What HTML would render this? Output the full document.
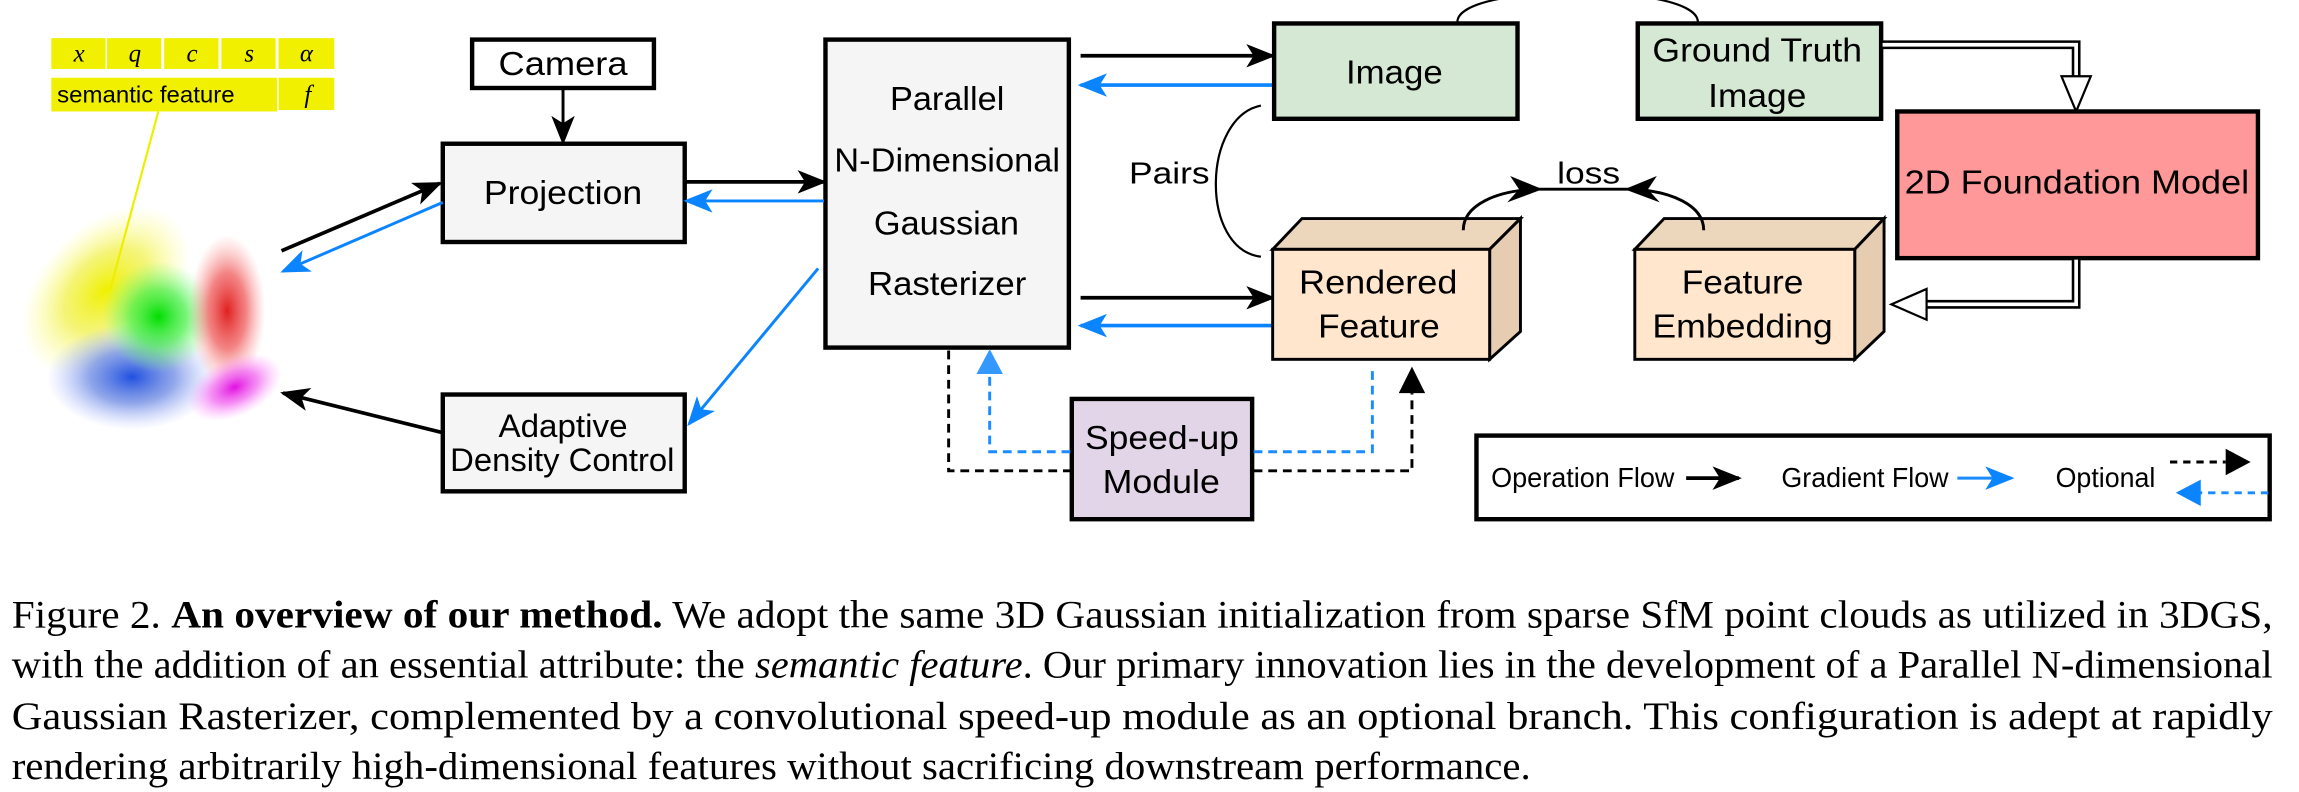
<!DOCTYPE html>
<html><head><meta charset="utf-8"><style>
html,body{margin:0;padding:0;background:#fff;}
svg{display:block;}
.t{font-family:"Liberation Sans",Arial,sans-serif;fill:#000;}
.c{font-family:"Liberation Serif","Times New Roman",serif;fill:#000;font-size:27px;}
</style></head><body>
<svg width="2299" height="792" viewBox="0 0 1568 540" preserveAspectRatio="none" xmlns="http://www.w3.org/2000/svg">
<defs>
<marker id="ab" viewBox="0 0 20 16" refX="18" refY="8" markerWidth="20" markerHeight="16" markerUnits="userSpaceOnUse" orient="auto">
<path d="M0,0 L20,8 L0,16 L5,8 Z" fill="#000"/></marker>
<marker id="au" viewBox="0 0 20 16" refX="18" refY="8" markerWidth="20" markerHeight="16" markerUnits="userSpaceOnUse" orient="auto">
<path d="M0,0 L20,8 L0,16 L5,8 Z" fill="#0a84ff"/></marker>
<radialGradient id="gy"><stop offset="0" stop-color="#f0f000"/><stop offset="0.5" stop-color="#f0f040" stop-opacity="0.7"/><stop offset="1" stop-color="#ffff80" stop-opacity="0"/></radialGradient>
<radialGradient id="gg"><stop offset="0" stop-color="#00dd00"/><stop offset="0.5" stop-color="#40ee40" stop-opacity="0.7"/><stop offset="1" stop-color="#80ff80" stop-opacity="0"/></radialGradient>
<radialGradient id="gr"><stop offset="0" stop-color="#e02020"/><stop offset="0.5" stop-color="#ee5050" stop-opacity="0.7"/><stop offset="1" stop-color="#ff9090" stop-opacity="0"/></radialGradient>
<radialGradient id="gb"><stop offset="0" stop-color="#2050e0"/><stop offset="0.5" stop-color="#6080e0" stop-opacity="0.7"/><stop offset="1" stop-color="#a0b0ff" stop-opacity="0"/></radialGradient>
<radialGradient id="gm"><stop offset="0" stop-color="#e010e0"/><stop offset="0.5" stop-color="#f060f0" stop-opacity="0.7"/><stop offset="1" stop-color="#ffa0ff" stop-opacity="0"/></radialGradient>
</defs>

<!-- blobs -->
<ellipse cx="72" cy="198" rx="68" ry="44" fill="url(#gy)" transform="rotate(-45 72 198)"/>
<ellipse cx="90" cy="257" rx="58" ry="36" fill="url(#gb)"/>
<ellipse cx="108" cy="216" rx="38" ry="38" fill="url(#gg)"/>
<ellipse cx="155" cy="212" rx="26" ry="52" fill="url(#gr)"/>
<ellipse cx="160" cy="264" rx="34" ry="20" fill="url(#gm)" transform="rotate(-25 160 264)"/>

<!-- yellow table -->
<g fill="#f0f000">
<rect x="35" y="26" width="37" height="21"/><rect x="73" y="26" width="37" height="21"/><rect x="112" y="26" width="37" height="21"/><rect x="151" y="26" width="37" height="21"/><rect x="190" y="26" width="38" height="21"/>
<rect x="35" y="53" width="154" height="23"/><rect x="190" y="53" width="38" height="22"/>
</g>
<g font-family="Liberation Serif,serif" font-style="italic" font-size="17" text-anchor="middle">
<text x="54" y="42">x</text><text x="92" y="42">q</text><text x="131" y="42">c</text><text x="170" y="42">s</text><text x="209" y="42">α</text><text x="210" y="70">f</text>
</g>
<text class="t" x="39" y="70" font-size="16" textLength="121" lengthAdjust="spacingAndGlyphs">semantic feature</text>
<line x1="108" y1="76" x2="75" y2="198" stroke="#eeee00" stroke-width="1.5"/>

<!-- Camera -->
<rect x="322" y="27" width="124" height="33" fill="#fff" stroke="#000" stroke-width="3"/>
<text class="t" x="340" y="51" font-size="23" textLength="88" lengthAdjust="spacingAndGlyphs">Camera</text>
<line x1="384" y1="60" x2="384" y2="97" stroke="#000" stroke-width="2" marker-end="url(#ab)"/>

<!-- Projection -->
<rect x="302" y="98" width="165" height="67" fill="#f5f5f5" stroke="#000" stroke-width="3"/>
<text class="t" x="330" y="139" font-size="23" fill="#333" textLength="108" lengthAdjust="spacingAndGlyphs">Projection</text>

<!-- Adaptive -->
<rect x="302" y="269" width="165" height="66" fill="#f5f5f5" stroke="#000" stroke-width="3"/>
<text class="t" x="340" y="298" font-size="22" textLength="88" lengthAdjust="spacingAndGlyphs">Adaptive</text>
<text class="t" x="307" y="321" font-size="22" textLength="153" lengthAdjust="spacingAndGlyphs">Density Control</text>

<!-- Rasterizer -->
<rect x="563" y="27" width="166" height="210" fill="#f5f5f5" stroke="#000" stroke-width="3"/>
<g class="t" font-size="23" fill="#222">
<text x="607" y="75" textLength="78" lengthAdjust="spacingAndGlyphs">Parallel</text>
<text x="569" y="117" textLength="154" lengthAdjust="spacingAndGlyphs">N-Dimensional</text>
<text x="596" y="160" textLength="99" lengthAdjust="spacingAndGlyphs">Gaussian</text>
<text x="592" y="201" textLength="108" lengthAdjust="spacingAndGlyphs">Rasterizer</text></g>

<!-- left arrows -->
<line x1="192" y1="171" x2="300" y2="125" stroke="#000" stroke-width="2.5" marker-end="url(#ab)"/>
<line x1="302" y1="138" x2="193" y2="185" stroke="#0a84ff" stroke-width="2" marker-end="url(#au)"/>
<line x1="467" y1="124" x2="562" y2="124" stroke="#000" stroke-width="2.5" marker-end="url(#ab)"/>
<line x1="562" y1="137" x2="468" y2="137" stroke="#0a84ff" stroke-width="2" marker-end="url(#au)"/>
<line x1="558" y1="183" x2="470" y2="289" stroke="#0a84ff" stroke-width="2" marker-end="url(#au)"/>
<line x1="302" y1="295" x2="193" y2="268" stroke="#000" stroke-width="2.5" marker-end="url(#ab)"/>

<!-- right of rasterizer arrows -->
<line x1="737" y1="38" x2="868" y2="38" stroke="#000" stroke-width="2.5" marker-end="url(#ab)"/>
<line x1="868" y1="58" x2="737" y2="58" stroke="#0a84ff" stroke-width="2.5" marker-end="url(#au)"/>
<line x1="737" y1="203" x2="868" y2="203" stroke="#000" stroke-width="2.5" marker-end="url(#ab)"/>
<line x1="868" y1="222" x2="737" y2="222" stroke="#0a84ff" stroke-width="2.5" marker-end="url(#au)"/>

<!-- Image -->
<path d="M994,15 C994,-12 1158,-12 1158,15" fill="none" stroke="#000" stroke-width="1.5"/>
<rect x="869" y="16" width="166" height="65" fill="#d5e8d4" stroke="#000" stroke-width="3"/>
<text class="t" x="918" y="57" font-size="23" textLength="66" lengthAdjust="spacingAndGlyphs">Image</text>
<rect x="1117" y="16" width="166" height="65" fill="#d5e8d4" stroke="#000" stroke-width="3"/>
<text class="t" x="1127" y="42" font-size="23" textLength="143" lengthAdjust="spacingAndGlyphs">Ground Truth</text>
<text class="t" x="1165" y="73" font-size="23" textLength="67" lengthAdjust="spacingAndGlyphs">Image</text>

<!-- Pairs -->
<path d="M860,72 C820,80 818,170 860,175" fill="none" stroke="#000" stroke-width="1.5"/>
<text class="t" x="770" y="125" font-size="21" textLength="55" lengthAdjust="spacingAndGlyphs">Pairs</text>

<!-- double arrows -->
<path d="M1284,30.5 L1416,30.5 L1416,54" fill="none" stroke="#000" stroke-width="6"/>
<path d="M1284,30.5 L1416,30.5 L1416,54" fill="none" stroke="#fff" stroke-width="2.5"/>
<path d="M1406,52 L1426,52 L1416,76 Z" fill="#fff" stroke="#000" stroke-width="1.5"/>
<rect x="1294" y="76" width="246" height="100" fill="#ff9999" stroke="#000" stroke-width="3"/>
<text class="t" x="1299" y="132" font-size="23" textLength="235" lengthAdjust="spacingAndGlyphs">2D Foundation Model</text>
<path d="M1416,177 L1416,207.5 L1312,207.5" fill="none" stroke="#000" stroke-width="6"/>
<path d="M1416,177 L1416,207.5 L1312,207.5" fill="none" stroke="#fff" stroke-width="2.5"/>
<path d="M1314,197 L1314,218 L1290,207.5 Z" fill="#fff" stroke="#000" stroke-width="1.5"/>

<!-- cubes -->
<g stroke="#000" stroke-width="2">
<path d="M868,170 L888,149 L1037,149 L1016,170 Z" fill="#ecd6bc"/>
<path d="M1016,170 L1037,149 L1037,226 L1016,245 Z" fill="#e6cdb2"/>
<rect x="868" y="170" width="148" height="75" fill="#ffe6cc"/>
<path d="M1115,170 L1135,149 L1285,149 L1265,170 Z" fill="#ecd6bc"/>
<path d="M1265,170 L1285,149 L1285,226 L1265,245 Z" fill="#e6cdb2"/>
<rect x="1115" y="170" width="150" height="75" fill="#ffe6cc"/>
</g>
<text class="t" x="886" y="200" font-size="23" textLength="108" lengthAdjust="spacingAndGlyphs">Rendered</text>
<text class="t" x="899" y="230" font-size="23" textLength="83" lengthAdjust="spacingAndGlyphs">Feature</text>
<text class="t" x="1147" y="200" font-size="23" textLength="83" lengthAdjust="spacingAndGlyphs">Feature</text>
<text class="t" x="1127" y="230" font-size="23" textLength="123" lengthAdjust="spacingAndGlyphs">Embedding</text>
<text class="t" x="1062" y="125" font-size="21" textLength="43" lengthAdjust="spacingAndGlyphs">loss</text>
<path d="M998,157 C998,140 1020,130 1048,129 L1090,129 L1112,129 C1140,130 1162,140 1162,157" fill="none" stroke="#000" stroke-width="2"/>
<path d="M1052,129 L1030,120 L1036,129 L1028,138 Z" fill="#000"/>
<path d="M1108,129 L1130,120 L1124,129 L1132,138 Z" fill="#000"/>

<!-- speed-up -->
<rect x="731" y="272" width="123" height="82" fill="#e1d5e7" stroke="#000" stroke-width="3"/>
<text class="t" x="740" y="306" font-size="23" textLength="105" lengthAdjust="spacingAndGlyphs">Speed-up</text>
<text class="t" x="752" y="336" font-size="23" textLength="80" lengthAdjust="spacingAndGlyphs">Module</text>
<path d="M647,239 L647,321 L730,321" fill="none" stroke="#000" stroke-width="2" stroke-dasharray="6,4"/>
<path d="M730,308 L675,308 L675,256" fill="none" stroke="#1a8cff" stroke-width="2" stroke-dasharray="6,4"/>
<path d="M666,255 L684,255 L675,238 Z" fill="#3399ff"/>
<path d="M855,308 L936,308 L936,252" fill="none" stroke="#1a8cff" stroke-width="2" stroke-dasharray="6,4"/>
<path d="M855,321 L963,321 L963,268" fill="none" stroke="#000" stroke-width="2" stroke-dasharray="6,4"/>
<path d="M954,268 L972,268 L963,250 Z" fill="#000"/>

<!-- legend -->
<rect x="1007" y="297" width="541" height="57" fill="#fff" stroke="#000" stroke-width="3"/>
<text class="t" x="1017" y="332" font-size="19" textLength="125" lengthAdjust="spacingAndGlyphs">Operation Flow</text>
<line x1="1150" y1="326" x2="1186" y2="326" stroke="#000" stroke-width="2.5" marker-end="url(#ab)"/>
<text class="t" x="1215" y="332" font-size="19" textLength="114" lengthAdjust="spacingAndGlyphs">Gradient Flow</text>
<line x1="1335" y1="326" x2="1372" y2="326" stroke="#1a8cff" stroke-width="2" marker-end="url(#au)"/>
<text class="t" x="1402" y="332" font-size="19" textLength="68" lengthAdjust="spacingAndGlyphs">Optional</text>
<line x1="1480" y1="315" x2="1518" y2="315" stroke="#000" stroke-width="2" stroke-dasharray="5,4"/>
<path d="M1518,306 L1535,315 L1518,324 Z" fill="#000"/>
<line x1="1547" y1="336" x2="1500" y2="336" stroke="#1a8cff" stroke-width="2" stroke-dasharray="5,4"/>
<path d="M1501,327 L1484,336 L1501,345 Z" fill="#0a84ff"/>

<!-- caption -->
<text class="c" x="8" y="428" textLength="1542" lengthAdjust="spacingAndGlyphs">Figure 2. <tspan font-weight="bold">An overview of our method.</tspan> We adopt the same 3D Gaussian initialization from sparse SfM point clouds as utilized in 3DGS,</text>
<text class="c" x="8" y="462" textLength="1542" lengthAdjust="spacingAndGlyphs">with the addition of an essential attribute: the <tspan font-style="italic">semantic feature</tspan>. Our primary innovation lies in the development of a Parallel N-dimensional</text>
<text class="c" x="8" y="497" textLength="1542" lengthAdjust="spacingAndGlyphs">Gaussian Rasterizer, complemented by a convolutional speed-up module as an optional branch.  This configuration is adept at rapidly</text>
<text class="c" x="8" y="531" textLength="1036" lengthAdjust="spacingAndGlyphs">rendering arbitrarily high-dimensional features without sacrificing downstream performance.</text>
</svg>
</body></html>
